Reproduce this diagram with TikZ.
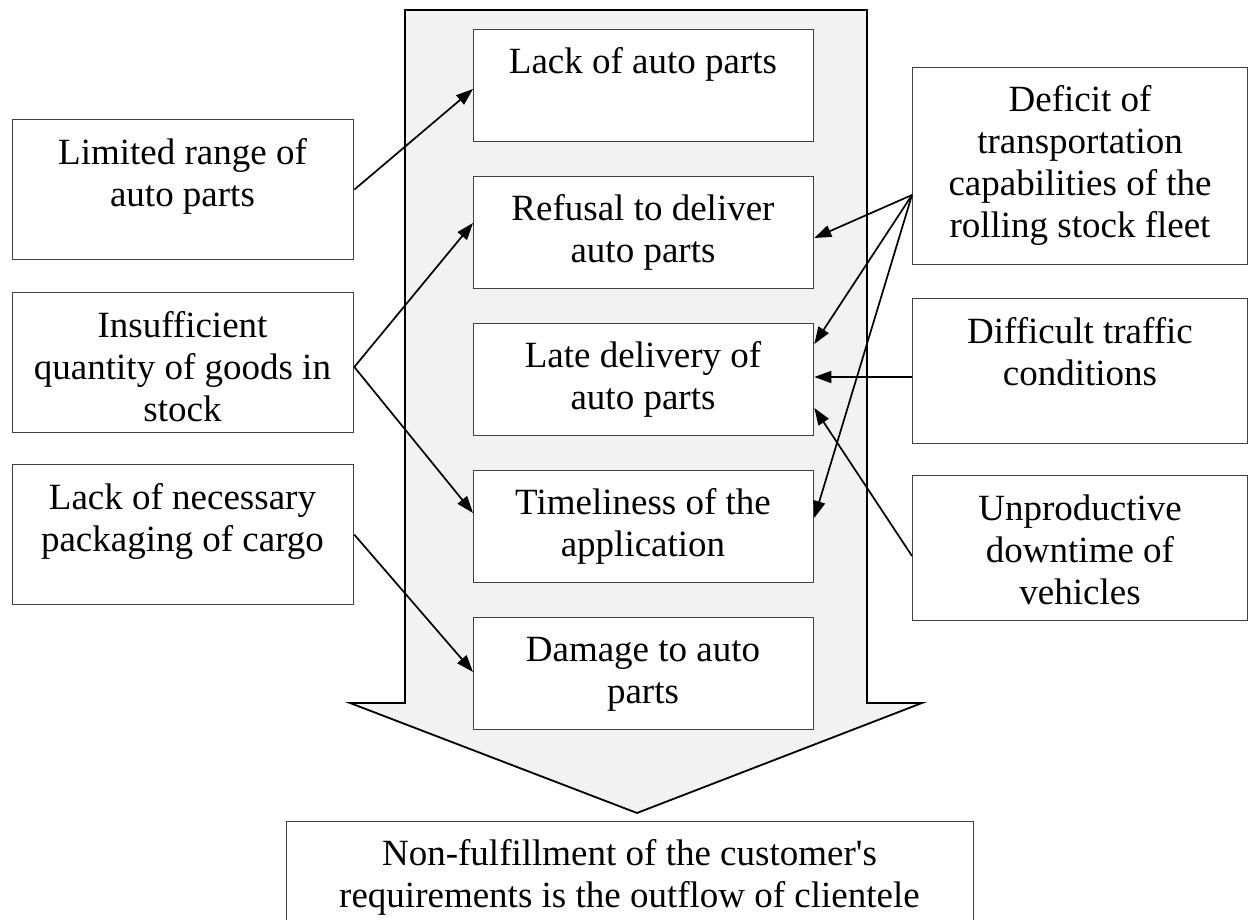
\documentclass[tikz,border=0pt]{standalone}
\usepackage{fontspec}
\setmainfont{Liberation Serif}
\usetikzlibrary{arrows.meta}
\definecolor{arrowfill}{HTML}{F2F2F2}
\definecolor{boxline}{HTML}{404040}
\newcommand{\tstrut}{\rule{0pt}{29.5pt}}
\begin{document}
\begin{tikzpicture}[x=1pt,y=-1pt,
  box/.style={draw=boxline, line width=1.3pt, fill=white, rectangle, anchor=north west, inner sep=0pt},
  txt/.style={anchor=north, align=center, inner sep=0pt, font=\fontsize{37pt}{42pt}\selectfont},
  conn/.style={line width=1.7pt, -{Triangle[length=17pt,width=12pt]}},
  flow/.style={draw=black, line width=1.8pt, fill=arrowfill, line join=miter}]
\useasboundingbox (0,0) rectangle (1248,920);

% big downward arrow
\draw[flow] (405,10) -- (867,10) -- (867,703) -- (922,703) -- (637,813) -- (350,703) -- (405,703) -- cycle;

% left boxes
\node[box, minimum width=341pt, minimum height=140pt] (l1) at (12,119) {};
\node[box, minimum width=341pt, minimum height=140pt] (l2) at (12,292) {};
\node[box, minimum width=341pt, minimum height=140pt] (l3) at (12,464) {};
\node[txt] (l1t) at (182.5,134.5) {\tstrut Limited range of\\auto parts};
\node[txt] (l2t) at (182.5,307.5) {\tstrut Insufficient\\quantity of goods in\\stock};
\node[txt] (l3t) at (182.5,479.5) {\tstrut Lack of necessary\\packaging of cargo};

% centre boxes
\node[box, minimum width=340pt, minimum height=112pt] (b1) at (473,29) {};
\node[box, minimum width=340pt, minimum height=112pt] (b2) at (473,176) {};
\node[box, minimum width=340pt, minimum height=112pt] (b3) at (473,323) {};
\node[box, minimum width=340pt, minimum height=112pt] (b4) at (473,470) {};
\node[box, minimum width=340pt, minimum height=112pt] (b5) at (473,617) {};
\node[txt] (b1t) at (643,43.5) {\tstrut Lack of auto parts};
\node[txt] (b2t) at (643,190.5) {\tstrut Refusal to deliver\\auto parts};
\node[txt] (b3t) at (643,337.5) {\tstrut Late delivery of\\auto parts};
\node[txt] (b4t) at (643,484.5) {\tstrut Timeliness of the\\application};
\node[txt] (b5t) at (643,631.5) {\tstrut Damage to auto\\parts};

% right boxes
\node[box, minimum width=335pt, minimum height=197pt] (r1) at (912,67) {};
\node[box, minimum width=335pt, minimum height=145pt] (r2) at (912,298) {};
\node[box, minimum width=335pt, minimum height=145pt] (r3) at (912,475) {};
\node[txt] (r1t) at (1080,81.5) {\tstrut Deficit of\\transportation\\capabilities of the\\rolling stock fleet};
\node[txt] (r2t) at (1080,313.5) {\tstrut Difficult traffic\\conditions};
\node[txt] (r3t) at (1080,490.5) {\tstrut Unproductive\\downtime of\\vehicles};

% result box
\node[box, minimum width=687pt, minimum height=130pt] (res) at (286,821) {};
\node[txt] (rest) at (629.5,835.5) {\tstrut Non-fulfillment of the customer\textquotesingle s\\requirements is the outflow of clientele};

% connectors
\draw[conn] (l1.east) -- (b1.west |- 0,89);
\draw[conn] (l2.east |- 0,367) -- (b2.west |- 0,223);
\draw[conn] (l2.east |- 0,367) -- (b4.west |- 0,513);
\draw[conn] (l3.east) -- (b5.west |- 0,672);
\draw[conn] (r1.west |- 0,195) -- (b2.east |- 0,238);
\draw[conn] (r1.west |- 0,195) -- (b3.east |- 0,344);
\draw[conn] (r1.west |- 0,195) -- (b4.east |- 0,518);
\draw[conn] (r2.west |- 0,377) -- (b3.east |- 0,377);
\draw[conn] (r3.west |- 0,556) -- (b3.east |- 0,408);
\end{tikzpicture}
\end{document}
